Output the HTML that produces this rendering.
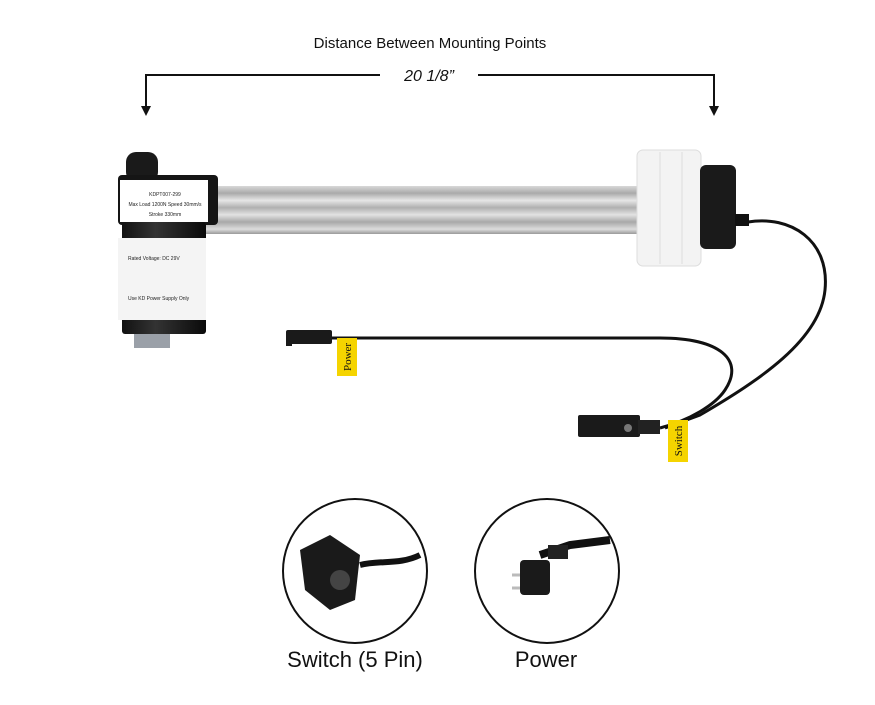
<!DOCTYPE html>
<html><head><meta charset="utf-8"><style>
html,body{margin:0;padding:0;background:#fff;}
body{width:875px;height:700px;overflow:hidden;font-family:"Liberation Sans",sans-serif;}
</style></head><body>
<svg width="875" height="700" viewBox="0 0 875 700" xmlns="http://www.w3.org/2000/svg">
<defs>
<linearGradient id="rail" x1="0" y1="0" x2="0" y2="1">
<stop offset="0" stop-color="#d8d8d8"/><stop offset="0.15" stop-color="#aaa"/><stop offset="0.3" stop-color="#e6e6e6"/><stop offset="0.45" stop-color="#b0b0b0"/><stop offset="0.6" stop-color="#e2e2e2"/><stop offset="0.75" stop-color="#a8a8a8"/><stop offset="0.9" stop-color="#dcdcdc"/><stop offset="1" stop-color="#9a9a9a"/>
</linearGradient>
<linearGradient id="motor" x1="0" y1="0" x2="1" y2="0">
<stop offset="0" stop-color="#111"/><stop offset="0.4" stop-color="#333"/><stop offset="1" stop-color="#0a0a0a"/>
</linearGradient>
</defs>
<text x="430" y="48" font-size="15" text-anchor="middle" fill="#111">Distance Between Mounting Points</text>
<polyline points="146,112 146,75 380,75" fill="none" stroke="#111" stroke-width="2"/>
<polyline points="478,75 714,75 714,112" fill="none" stroke="#111" stroke-width="2"/>
<polygon points="141,106 151,106 146,116" fill="#111"/>
<polygon points="709,106 719,106 714,116" fill="#111"/>
<text x="429" y="81" font-size="16" font-style="italic" text-anchor="middle" fill="#111">20 1/8”</text>

<!-- rail -->
<rect x="205" y="186" width="440" height="48" fill="url(#rail)"/>
<!-- motor housing -->
<rect x="126" y="152" width="32" height="30" rx="10" fill="#1a1a1a"/>
<rect x="118" y="175" width="100" height="50" rx="4" fill="#151515"/>
<rect x="120" y="180" width="88" height="42" fill="#fff"/>
<rect x="122" y="222" width="84" height="112" rx="3" fill="url(#motor)"/>
<rect x="118" y="238" width="88" height="82" fill="#f4f4f4"/>
<text x="165" y="196" font-size="5" text-anchor="middle" fill="#222">KDPT007-299</text>
<text x="165" y="206" font-size="5" text-anchor="middle" fill="#222">Max Load 1200N Speed 30mm/s</text>
<text x="165" y="216" font-size="5" text-anchor="middle" fill="#222">Stroke 330mm</text>
<text x="128" y="260" font-size="5" fill="#222">Rated Voltage: DC 29V</text>
<text x="128" y="300" font-size="5" fill="#222">Use KD Power Supply Only</text>
<rect x="134" y="334" width="36" height="14" fill="#9aa0a8"/>
<!-- front block -->
<rect x="637" y="150" width="64" height="116" rx="6" fill="#f3f3f3" stroke="#ddd"/>
<line x1="660" y1="152" x2="660" y2="264" stroke="#ddd"/>
<line x1="682" y1="152" x2="682" y2="264" stroke="#ddd"/>
<rect x="700" y="165" width="36" height="84" rx="6" fill="#1a1a1a"/>
<rect x="735" y="214" width="14" height="12" fill="#111"/>
<!-- cables -->
<path d="M748,222 C790,215 830,240 825,290 C820,340 760,380 700,415 L665,428" fill="none" stroke="#111" stroke-width="3"/>
<path d="M330,338 L660,338 C720,338 745,360 725,390 C715,405 690,420 660,428" fill="none" stroke="#111" stroke-width="3"/>
<!-- power connector -->
<rect x="286" y="330" width="46" height="14" rx="2" fill="#1a1a1a"/>
<rect x="286" y="336" width="6" height="10" fill="#1a1a1a"/>
<!-- switch connector -->
<rect x="578" y="415" width="62" height="22" rx="2" fill="#1a1a1a"/>
<circle cx="628" cy="428" r="4" fill="#777"/>
<rect x="638" y="420" width="22" height="14" fill="#222"/>
<!-- yellow labels -->
<rect x="337" y="338" width="20" height="38" fill="#f5d400"/>
<text transform="translate(351,357) rotate(-90)" font-family="Liberation Serif,serif" font-size="11" text-anchor="middle" fill="#111">Power</text>
<rect x="668" y="420" width="20" height="42" fill="#f5d400"/>
<text transform="translate(682,441) rotate(-90)" font-family="Liberation Serif,serif" font-size="11" text-anchor="middle" fill="#111">Switch</text>

<!-- circles -->
<circle cx="355" cy="571" r="72" fill="#fff" stroke="#111" stroke-width="2"/>
<circle cx="547" cy="571" r="72" fill="#fff" stroke="#111" stroke-width="2"/>
<path d="M300,550 L330,535 L360,555 L355,600 L330,610 L305,590 Z" fill="#1a1a1a"/>
<circle cx="340" cy="580" r="10" fill="#444"/>
<path d="M360,565 C380,560 400,565 420,555" fill="none" stroke="#111" stroke-width="6"/>
<rect x="520" y="560" width="30" height="35" rx="4" fill="#1a1a1a"/>
<path d="M540,555 L570,545 L610,540" fill="none" stroke="#111" stroke-width="8"/>
<rect x="548" y="545" width="20" height="14" fill="#222"/>
<line x1="512" y1="575" x2="520" y2="575" stroke="#bbb" stroke-width="3"/>
<line x1="512" y1="588" x2="520" y2="588" stroke="#bbb" stroke-width="3"/>

<text x="355" y="667" font-size="22" text-anchor="middle" fill="#111">Switch (5 Pin)</text>
<text x="546" y="667" font-size="22" text-anchor="middle" fill="#111">Power</text>
</svg>
</body></html>
